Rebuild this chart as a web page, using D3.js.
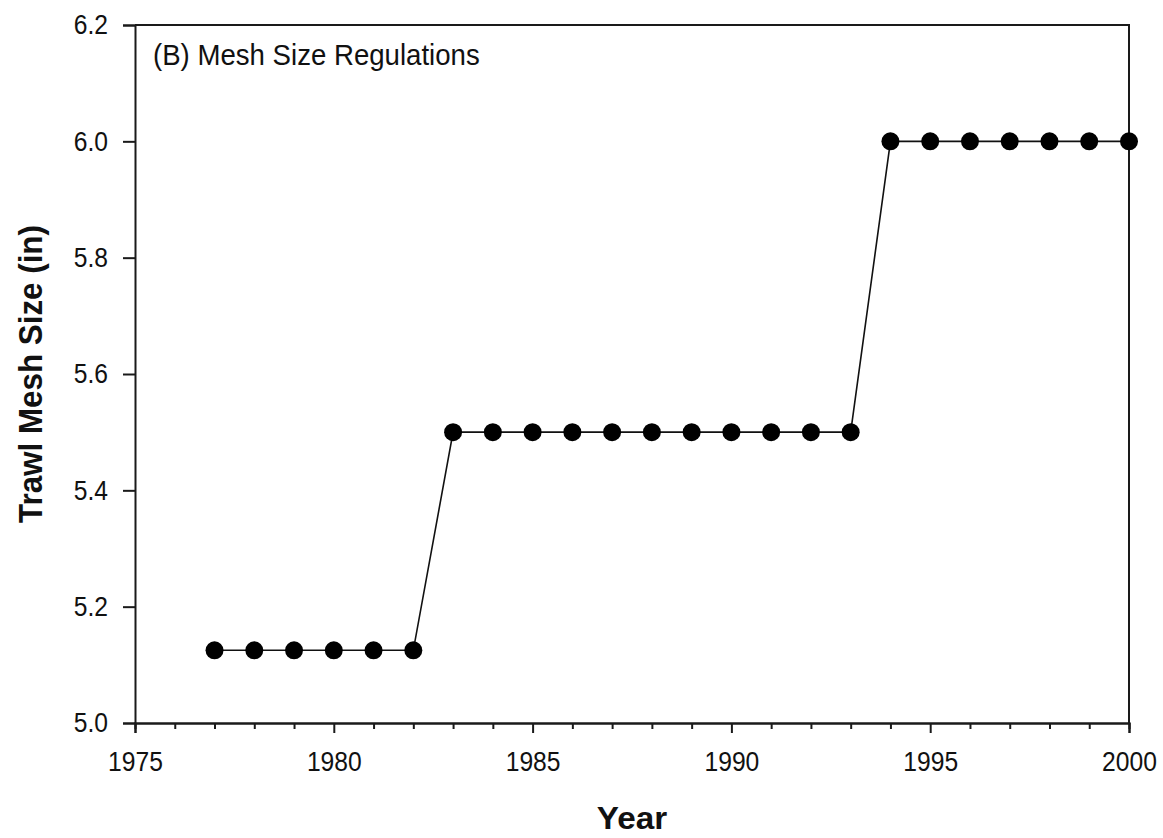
<!DOCTYPE html>
<html>
<head>
<meta charset="utf-8">
<script src="https://cdn.jsdelivr.net/npm/d3@7"></script>
<style>
  html, body { margin: 0; padding: 0; background: #fff; }
  svg { display: block; }
  text { font-family: "Liberation Sans", Arial, sans-serif; fill: #111; }
</style>
</head>
<body>
<svg id="chart" width="1163" height="838"></svg>
<script>
// Trawl mesh size regulation by year
const years = [1977, 1978, 1979, 1980, 1981, 1982, 1983, 1984, 1985, 1986, 1987, 1988,
               1989, 1990, 1991, 1992, 1993, 1994, 1995, 1996, 1997, 1998, 1999, 2000];
const meshSize = [5.125, 5.125, 5.125, 5.125, 5.125, 5.125,
                  5.5, 5.5, 5.5, 5.5, 5.5, 5.5, 5.5, 5.5, 5.5, 5.5, 5.5,
                  6.0, 6.0, 6.0, 6.0, 6.0, 6.0, 6.0];
const xMajorTicks = [1975, 1980, 1985, 1990, 1995, 2000];
const yTicks = [5.0, 5.2, 5.4, 5.6, 5.8, 6.0, 6.2];
const panelTitle = "(B) Mesh Size Regulations";
const xTitle = "Year";
const yTitle = "Trawl Mesh Size (in)";

const margin = { left: 135, right: 34, top: 25, bottom: 115 };
const W = 1163, H = 838;
const svg = d3.select("#chart");

const x = d3.scaleLinear().domain([1975, 2000]).range([margin.left, W - margin.right]);
const y = d3.scaleLinear().domain([5.0, 6.2]).range([H - margin.bottom, margin.top]);

const x0 = x.range()[0], x1 = x.range()[1];
const y0 = y.range()[0], y1 = y.range()[1];

// Narrow, tall lettering: size the glyphs by height, then squeeze them horizontally.
function narrow(sel, size, widthRatio) {
  sel.attr("font-size", size).each(function () {
    const len = this.getComputedTextLength();
    d3.select(this)
      .attr("textLength", len * widthRatio)
      .attr("lengthAdjust", "spacingAndGlyphs");
  });
}

// frame (top and right edges)
svg.append("path")
  .attr("d", `M${x0},${y1}H${x1}V${y0}`)
  .attr("fill", "none").attr("stroke", "#1a1a1a").attr("stroke-width", 2);

// x axis: minor ticks each year, labelled majors every five
const minorYears = d3.range(1975, 2001).filter(v => !xMajorTicks.includes(v));
const xMinor = svg.append("g").attr("transform", `translate(0,${y0})`)
  .call(d3.axisBottom(x).tickValues(minorYears).tickSize(6).tickFormat(""));
const xAxis = svg.append("g").attr("transform", `translate(0,${y0})`)
  .call(d3.axisBottom(x).tickValues(xMajorTicks).tickSize(10).tickPadding(18).tickFormat(d3.format("d")));

// y axis
const yAxis = svg.append("g").attr("transform", `translate(${x0},0)`)
  .call(d3.axisLeft(y).tickValues(yTicks).tickSize(12).tickPadding(15).tickFormat(d3.format(".1f")));

[xMinor, xAxis, yAxis].forEach(g => {
  g.select(".domain").attr("stroke", "#1a1a1a").attr("stroke-width", 2);
  g.selectAll(".tick line").attr("stroke", "#1a1a1a").attr("stroke-width", 2);
  g.selectAll(".tick text").attr("fill", "#222")
    .attr("font-family", "\"Liberation Sans\", Arial, sans-serif");
});
narrow(xAxis.selectAll(".tick text"), 28, 0.88);
narrow(yAxis.selectAll(".tick text"), 28, 0.88);

// connecting line
const line = d3.line().x((d, i) => x(years[i])).y(d => y(d));
svg.append("path").datum(meshSize)
  .attr("d", line)
  .attr("fill", "none").attr("stroke", "#111").attr("stroke-width", 1.6);

// markers
svg.append("g").selectAll("circle").data(meshSize).join("circle")
  .attr("cx", (d, i) => x(years[i]))
  .attr("cy", d => y(d))
  .attr("r", 9)
  .attr("fill", "#000");

// panel label
svg.append("text")
  .attr("x", 153).attr("y", 65)
  .attr("fill", "#222")
  .text(panelTitle)
  .call(narrow, 30, 0.92);

// axis titles
svg.append("text")
  .attr("x", (x0 + x1) / 2).attr("y", 829)
  .attr("text-anchor", "middle")
  .attr("font-weight", "bold")
  .text(xTitle)
  .call(narrow, 32, 1.04);

svg.append("text")
  .attr("transform", `translate(42,${(y0 + y1) / 2}) rotate(-90)`)
  .attr("text-anchor", "middle")
  .attr("font-weight", "bold")
  .text(yTitle)
  .call(narrow, 33, 0.95);
</script>
</body>
</html>
